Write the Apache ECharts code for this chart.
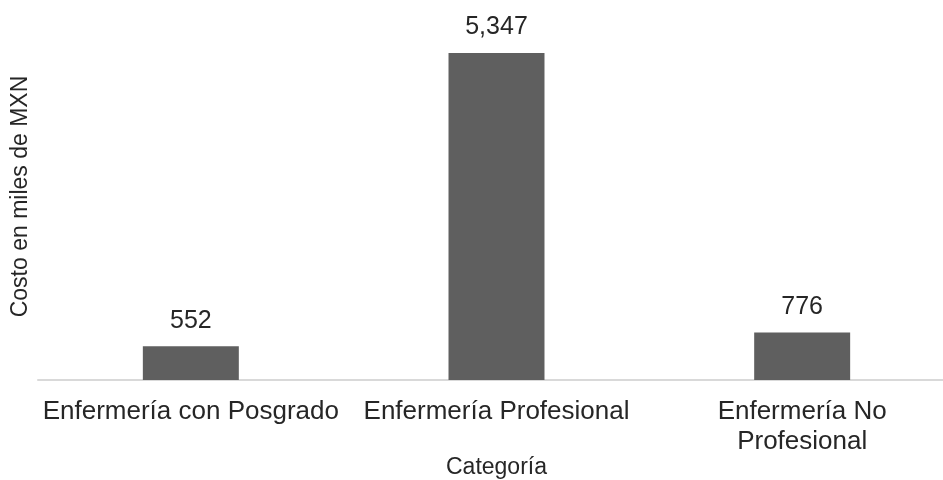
<!DOCTYPE html>
<html>
<head>
<meta charset="utf-8">
<script src="https://cdn.jsdelivr.net/npm/echarts@6/dist/echarts.min.js"></script>
<style>
  html, body { margin: 0; padding: 0; background: #fff; }
  #chart { width: 943px; height: 480px; }
</style>
</head>
<body>
<div id="chart"></div>
<script>
// Cost by nursing category (thousands of MXN)
const categories = ['Enfermería con Posgrado', 'Enfermería Profesional', 'Enfermería No\nProfesional'];
const costs = [552, 5347, 776];

const FONT = '"Liberation Sans", Arial, sans-serif';
const TEXT = '#262626';

const chart = echarts.init(document.getElementById('chart'), null, { renderer: 'canvas' });
chart.setOption({
  animation: false,
  backgroundColor: '#ffffff',
  grid: { left: 38, right: -12, top: 13, bottom: 100, containLabel: false, outerBoundsMode: 'none' },
  xAxis: {
    type: 'category',
    data: categories,
    name: 'Categoría',
    nameLocation: 'middle',
    nameGap: 76,
    nameMoveOverlap: false,
    nameTextStyle: { fontFamily: FONT, fontSize: 23, color: TEXT },
    axisLine: { lineStyle: { color: '#d9d9d9', width: 2 } },
    axisTick: { show: false },
    axisLabel: {
      interval: 0,
      margin: 17,
      fontFamily: FONT,
      fontSize: 26,
      lineHeight: 30,
      color: TEXT
    }
  },
  yAxis: {
    type: 'value',
    min: 0,
    max: 6000,
    name: 'Costo en miles de MXN',
    nameLocation: 'middle',
    nameGap: 6,
    nameTextStyle: { fontFamily: FONT, fontSize: 23, color: TEXT },
    axisLine: { show: false },
    axisTick: { show: false },
    axisLabel: { show: false },
    splitLine: { show: false }
  },
  series: [{
    type: 'bar',
    data: costs,
    barWidth: '31.4%',
    itemStyle: { color: '#5f5f5f' },
    label: {
      show: true,
      position: 'top',
      distance: 13,
      fontFamily: FONT,
      fontSize: 25,
      color: TEXT,
      formatter: p => p.value.toLocaleString('en-US')
    }
  }]
});
</script>
</body>
</html>
